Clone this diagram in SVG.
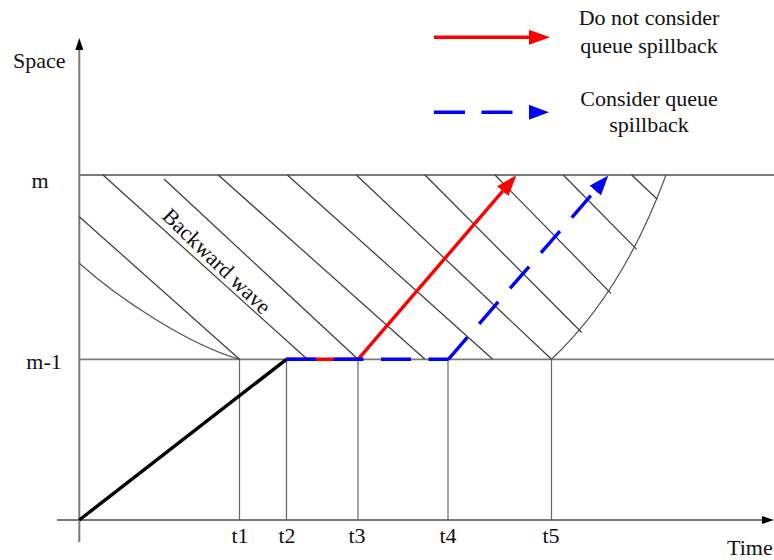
<svg xmlns="http://www.w3.org/2000/svg" width="774" height="560" viewBox="0 0 774 560">
<style>
  text { font-family: "Liberation Serif", "Times New Roman", serif; font-size: 22px; fill: #111; }
  .axis { stroke: #7a7a7a; stroke-width: 2; fill: none; }
  .level { stroke: #7a7a7a; stroke-width: 1.8; fill: none; }
  .tick { stroke: #666; stroke-width: 1.2; fill: none; }
  .hatch { stroke: #3a3a3a; stroke-width: 1.2; fill: none; }
  .curve { stroke: #555; stroke-width: 1.2; fill: none; }
  .red { stroke: #ff0000; stroke-width: 3.4; fill: none; }
  .blue { stroke: #0000ff; stroke-width: 3.4; fill: none; }
  .black { stroke: #000; stroke-width: 3.4; fill: none; }
</style>
<defs>
  <marker id="axisHead" markerUnits="userSpaceOnUse" markerWidth="12" markerHeight="8" refX="0" refY="4" orient="auto">
    <path d="M0,0 L12,4 L0,8 z" fill="#000"/>
  </marker>
  <marker id="redHead" markerUnits="userSpaceOnUse" markerWidth="21" markerHeight="15" refX="0" refY="7.5" orient="auto">
    <path d="M0,0 L21,7.5 L0,15 z" fill="#ff0000"/>
  </marker>
  <marker id="blueHead" markerUnits="userSpaceOnUse" markerWidth="20" markerHeight="15" refX="0" refY="7.5" orient="auto">
    <path d="M0,0 L20,7.5 L0,15 z" fill="#0000ff"/>
  </marker>
</defs>

<g id="axes">
  <line class="axis" x1="79.3" y1="542" x2="79.3" y2="50" marker-end="url(#axisHead)"/>
  <line class="axis" x1="57" y1="520" x2="762" y2="520" marker-end="url(#axisHead)"/>
  <text x="13" y="68">Space</text>
  <text x="727" y="555">Time</text>
</g>

<g id="levels">
  <line class="level" x1="79.3" y1="175" x2="774" y2="175"/>
  <line class="level" x1="79.3" y1="359.3" x2="774" y2="359.3"/>
  <text x="40" y="188" text-anchor="middle">m</text>
  <text x="44" y="369" text-anchor="middle">m-1</text>
</g>

<g id="time-marks">
  <line class="tick" x1="239.5" y1="359.3" x2="239.5" y2="520"/>
  <line class="tick" x1="286.5" y1="359.3" x2="286.5" y2="520"/>
  <line class="tick" x1="358" y1="359.3" x2="358" y2="520"/>
  <line class="tick" x1="448" y1="359.3" x2="448" y2="520"/>
  <line class="tick" x1="551.5" y1="359.3" x2="551.5" y2="520"/>
  <text x="240" y="543" text-anchor="middle">t1</text>
  <text x="287" y="543" text-anchor="middle">t2</text>
  <text x="357" y="543" text-anchor="middle">t3</text>
  <text x="448" y="543" text-anchor="middle">t4</text>
  <text x="551" y="543" text-anchor="middle">t5</text>
</g>

<g id="backward-wave">
  <path class="curve" d="M79.3,263.3 C120,300 190,345 239.5,359.3"/>
  <path class="curve" d="M551.5,359.3 Q623,292 666,175"/>
  <line class="hatch" x1="79.3" y1="216.7" x2="239.5" y2="359.3"/>
  <line class="hatch" x1="103" y1="175" x2="307.3" y2="359.3"/>
  <line class="hatch" x1="164" y1="179" x2="358" y2="359.3"/>
  <line class="hatch" x1="218.3" y1="175" x2="425" y2="359.3"/>
  <line class="hatch" x1="287.3" y1="175" x2="492.7" y2="359.3"/>
  <line class="hatch" x1="356.3" y1="175" x2="551.5" y2="359.3"/>
  <line class="hatch" x1="425" y1="175" x2="581.7" y2="332.5"/>
  <line class="hatch" x1="495" y1="175" x2="611" y2="293.3"/>
  <line class="hatch" x1="563.3" y1="175" x2="636.7" y2="249.3"/>
  <line class="hatch" x1="631.7" y1="175" x2="657.3" y2="199.3"/>
  <text transform="translate(216.5,261.5) rotate(44)" x="0" y="7" text-anchor="middle">Backward wave</text>
</g>

<g id="connectors">
  <line class="black" x1="79.3" y1="520" x2="286.5" y2="359.3"/>
  <line class="red" x1="286.5" y1="359.3" x2="358" y2="359.3"/>
  <line class="red" x1="358" y1="359.3" x2="502.7" y2="191.2" marker-end="url(#redHead)"/>
  <line class="blue" x1="286" y1="359.3" x2="448.3" y2="359.3" stroke-dasharray="30 17.5"/>
  <line class="blue" x1="448.3" y1="359.3" x2="595.2" y2="190.6" stroke-dasharray="29 18" marker-end="url(#blueHead)"/>
</g>

<g id="legend">
  <line class="red" x1="434" y1="37.3" x2="529" y2="37.3" marker-end="url(#redHead)"/>
  <text x="649" y="25" text-anchor="middle">Do not consider</text>
  <text x="649" y="52.5" text-anchor="middle">queue spillback</text>
  <line class="blue" x1="434" y1="112.3" x2="529" y2="112.3" stroke-dasharray="31 16.5" marker-end="url(#blueHead)"/>
  <text x="649" y="106" text-anchor="middle">Consider queue</text>
  <text x="649" y="131.5" text-anchor="middle">spillback</text>
</g>
</svg>
